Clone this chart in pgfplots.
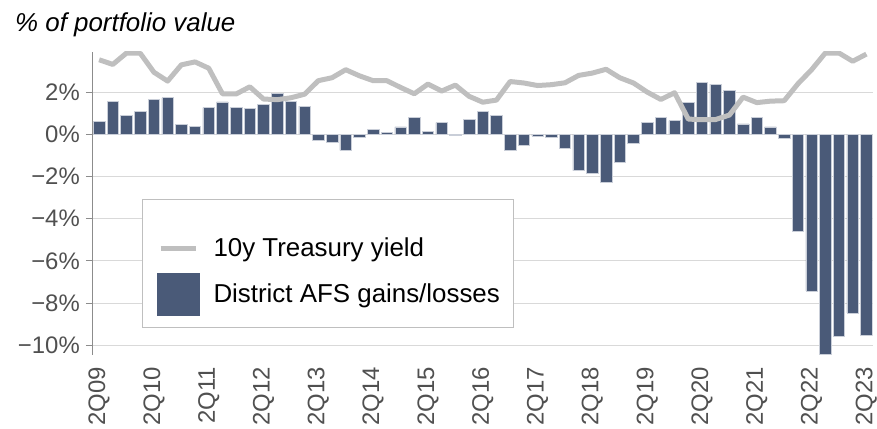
\documentclass[border=0pt]{standalone}
\usepackage{pgfplots}
\pgfplotsset{compat=1.18}
\usepackage{pgfplotstable}
\usepackage{fontspec}
\setmainfont{Liberation Sans}
\definecolor{barcol}{HTML}{4A5A78}
\definecolor{linecol}{HTML}{BFBFBF}
\definecolor{gridcol}{HTML}{D9D9D9}
\definecolor{tickcol}{HTML}{505050}
\definecolor{axcol}{HTML}{8C8C8C}
\definecolor{baredge}{HTML}{C9CED8}

\pgfplotstableread{
x afs yield
0 0.61 3.53
1 1.54 3.31
2 0.90 3.85
3 1.10 3.84
4 1.65 2.94
5 1.73 2.52
6 0.47 3.29
7 0.36 3.43
8 1.26 3.13
9 1.53 1.92
10 1.29 1.91
11 1.21 2.25
12 1.43 1.67
13 1.92 1.64
14 1.56 1.73
15 1.34 1.90
16 -0.27 2.54
17 -0.38 2.68
18 -0.76 3.06
19 -0.13 2.77
20 0.24 2.54
21 0.09 2.54
22 0.35 2.22
23 0.80 1.92
24 0.14 2.38
25 0.55 2.05
26 -0.06 2.33
27 0.69 1.80
28 1.10 1.52
29 0.90 1.62
30 -0.74 2.50
31 -0.54 2.43
32 -0.09 2.31
33 -0.16 2.35
34 -0.66 2.44
35 -1.72 2.79
36 -1.87 2.90
37 -2.27 3.08
38 -1.34 2.68
39 -0.41 2.43
40 0.58 2.00
41 0.80 1.65
42 0.65 1.97
43 1.50 0.72
44 2.44 0.69
45 2.38 0.70
46 2.09 0.91
47 0.49 1.76
48 0.79 1.50
49 0.35 1.57
50 -0.17 1.59
51 -4.58 2.39
52 -7.42 3.06
53 -10.44 3.85
54 -9.59 3.85
55 -8.46 3.46
56 -9.53 3.80
}\data

\begin{document}
\begin{tikzpicture}
\begin{axis}[
  scale only axis, width=780bp, height=303bp,
  xmin=-0.45, xmax=56.45, ymin=-10.45, ymax=3.9,
  axis x line*=bottom, axis y line*=left,
  x axis line style={draw=none},
  y axis line style={draw=axcol, line width=1bp, -},
  xtick={0,4,...,56},
  xticklabels={2Q09,2Q10,2Q11,2Q12,2Q13,2Q14,2Q15,2Q16,2Q17,2Q18,2Q19,2Q20,2Q21,2Q22,2Q23},
  xtick style={draw=none},
  ytick={-10,-8,-6,-4,-2,0,2},
  yticklabels={−10\%,−8\%,−6\%,−4\%,−2\%,0\%,2\%},
  ytick style={draw=axcol, line width=1bp},
  tick align=outside,
  major tick length=7bp,
  ymajorgrids,
  grid style={gridcol, line width=1bp},
  ticklabel style={font=\fontsize{24}{28}\selectfont, text=tickcol, inner sep=0pt},
  xticklabel style={rotate=90, anchor=east},
  yticklabel style={anchor=east},
  xticklabel shift=5bp,
  yticklabel shift=6bp,
  legend style={at={(0.063,0.515)}, anchor=north west, draw=linecol, line width=1bp,
    fill=white, inner xsep=14bp, inner ysep=12bp, row sep=3bp,
    font=\fontsize{26}{30}\selectfont, nodes={inner sep=0pt},
    /tikz/every odd column/.append style={column sep=14bp}},
  legend cell align=left,
]
\coordinate (O) at (rel axis cs:0,0);
\addlegendimage{legend image code/.code={\path[draw=none,fill=none] (0bp,-21.5bp) rectangle (43bp,37bp); \draw[linecol, line width=5bp] (4bp,0bp) -- (39bp,0bp);}}
\addlegendentry{10y Treasury yield}
\addlegendimage{legend image code/.code={\fill[barcol, draw=none] (0bp,-21.5bp) rectangle (43bp,21.5bp);}}
\addlegendentry{District AFS gains/losses}
\addplot[ybar, bar width=0.84, fill=barcol, draw=baredge, line width=0.6bp, forget plot] table[x=x,y=afs]{\data};
\addplot[linecol, line width=5bp, line join=round, no marks, forget plot] table[x=x,y=yield]{\data};
\end{axis}
\node[anchor=base west, inner sep=0pt, font=\fontsize{26}{30}\selectfont\itshape] at ([shift={(-78bp,323bp)}]O) {\% of portfolio value};
\path ([shift={(-93bp,-74bp)}]O) rectangle ([shift={(784bp,355bp)}]O);
\end{tikzpicture}
\end{document}
